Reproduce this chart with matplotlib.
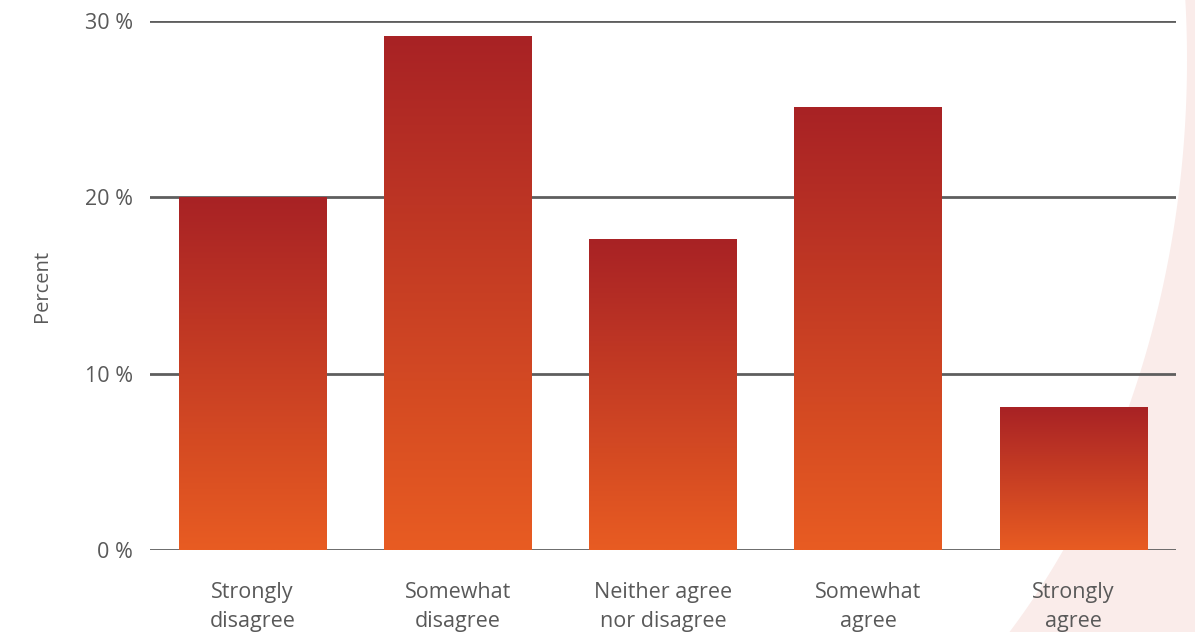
import numpy as np
import matplotlib.pyplot as plt
from matplotlib.colors import LinearSegmentedColormap
from matplotlib.patches import Polygon

# Dados
respostas = ['Strongly\ndisagree', 'Somewhat\ndisagree', 'Neither agree\nnor disagree',
             'Somewhat\nagree', 'Strongly\nagree']
percentuais = [20.0, 29.1, 17.6, 25.1, 8.1]
ticks_y = [0, 10, 20, 30]

plt.rcParams['font.family'] = ['Open Sans', 'DejaVu Sans']

fig = plt.figure(figsize=(11.95, 6.32), dpi=100)

# Fundo: faixa rosada curva à direita
fundo = fig.add_axes([0, 0, 1, 1], zorder=0)
fundo.set_xlim(0, 1195)
fundo.set_ylim(632, 0)
fundo.axis('off')
yy = np.linspace(0, 632, 200)
xx = 597 + 590 * np.sqrt(np.clip(1 - ((yy - 60) / 800) ** 2, 0, 1))
pts = np.column_stack([np.r_[xx, 1195, 1195], np.r_[yy, 632, 0]])
fundo.add_patch(Polygon(pts, closed=True, facecolor='#faecea', edgecolor='none'))

ax = fig.add_axes([150 / 1195, 1 - 550 / 632, 1026 / 1195, 529 / 632], zorder=1)
ax.patch.set_alpha(0)

# Gradiente vertical das barras
cmap = LinearSegmentedColormap.from_list('grad', ['#e85c22', '#a82225'])
grad = np.linspace(0, 1, 256).reshape(-1, 1)

x = np.arange(len(respostas))
barras = ax.bar(x, percentuais, width=0.72, color='none', zorder=3)
for b in barras:
    x0, w, h = b.get_x(), b.get_width(), b.get_height()
    ax.imshow(grad, cmap=cmap, origin='lower', aspect='auto',
              extent=[x0, x0 + w, 0, h], zorder=3, interpolation='bilinear')

ax.set_xlim(-0.5, len(respostas) - 0.5)
ax.set_ylim(0, 30)
ax.set_yticks(ticks_y)
ax.set_yticklabels([f'{t} %' for t in ticks_y])
ax.set_xticks(x)
ax.set_xticklabels(respostas, linespacing=1.5)
ax.yaxis.grid(True, color='#5e5e5e', linewidth=2.0)
ax.set_axisbelow(True)
for s in ax.spines.values():
    s.set_visible(False)
ax.tick_params(axis='both', length=0, colors='#595959')
ax.tick_params(axis='y', labelsize=15.5, pad=12)
ax.tick_params(axis='x', labelsize=15.5, pad=23)
ax.set_ylabel('Percent', fontsize=14.5, color='#595959', labelpad=24)

fig.savefig('out.png', dpi=100)
